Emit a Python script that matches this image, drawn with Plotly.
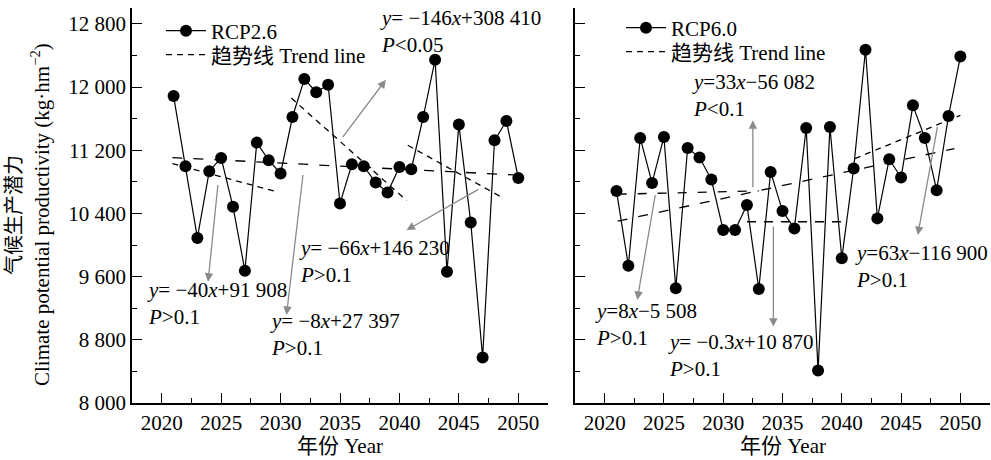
import plotly.graph_objects as go

FONT = "Liberation Serif, Noto Sans CJK SC, serif"

years = list(range(2021, 2051))
rcp26 = [11885, 10997, 10090, 10934, 11102, 10483, 9675, 11296, 11073, 10905,
         11620, 12100, 11935, 12029, 10526, 11022, 10997, 10791, 10665, 10988,
         10959, 11620, 12345, 9662, 11524, 10286, 8576, 11325, 11569, 10849]
rcp60 = [10685, 9738, 11355, 10786, 11368, 9452, 11228, 11107, 10829, 10189,
         10189, 10505, 9444, 10925, 10429, 10210, 11481, 8412, 11494, 9831,
         10968, 12471, 10337, 11086, 10854, 11768, 11355, 10694, 11633, 12386]

# trend line end points (start/end year, start/end value)
left_trend_x = [[2020.9, 2049.6], [2020.9, 2029.7], [2030.9, 2040.6], [2040.7, 2048.7]]
left_trend_y = [[11107, 10887], [11031, 10673], [11860, 10564], [11262, 10597]]
right_trend_x = [[2021.1, 2049.5], [2021.1, 2033.0], [2032.0, 2040.0], [2041.1, 2050.0]]
right_trend_y = [[10302, 11221], [10643, 10685], [10294, 10294], [11094, 11641]]

left_eq = ["<i>y</i>= −146<i>x</i>+308 410<br><i>P</i><0.05",
           "<i>y</i>= −66<i>x</i>+146 230<br><i>P</i>>0.1",
           "<i>y</i>= −40<i>x</i>+91 908<br><i>P</i>>0.1",
           "<i>y</i>= −8<i>x</i>+27 397<br><i>P</i>>0.1"]
right_eq = ["<i>y</i>=33<i>x</i>−56 082<br><i>P</i><0.1",
            "<i>y</i>=8<i>x</i>−5 508<br><i>P</i>>0.1",
            "<i>y</i>= −0.3<i>x</i>+10 870<br><i>P</i>>0.1",
            "<i>y</i>=63<i>x</i>−116 900<br><i>P</i>>0.1"]

x_ticks = [2020, 2025, 2030, 2035, 2040, 2045, 2050]
y_ticks = [8000, 8800, 9600, 10400, 11200, 12000, 12800]
y_ticktext = ["8 000", "8 800", "9 600", "10 400", "11 200", "12 000", "12 800"]

LONG = "10px,11px"
SHORT = "6px,5px"
left_dash = [LONG, SHORT, SHORT, SHORT]
right_dash = [LONG, "9px,11px", "9px,8px", SHORT]

fig = go.Figure()

# trend lines
for i, (tx, ty) in enumerate(zip(left_trend_x, left_trend_y)):
    fig.add_trace(go.Scatter(x=tx, y=ty, mode="lines", xaxis="x", yaxis="y",
                             line=dict(color="black", width=1.3, dash=left_dash[i]),
                             name="趋势线 Trend line", showlegend=(i == 1),
                             legend="legend2", hoverinfo="skip"))
for i, (tx, ty) in enumerate(zip(right_trend_x, right_trend_y)):
    fig.add_trace(go.Scatter(x=tx, y=ty, mode="lines", xaxis="x2", yaxis="y2",
                             line=dict(color="black", width=1.3, dash=right_dash[i]),
                             name="趋势线 Trend line", showlegend=(i == 3),
                             legend="legend4", hoverinfo="skip"))

fig.add_trace(go.Scatter(x=years, y=rcp26, mode="lines+markers", name="RCP2.6",
                         xaxis="x", yaxis="y", legend="legend", showlegend=True,
                         line=dict(color="black", width=1.2),
                         marker=dict(color="black", size=12)))
fig.add_trace(go.Scatter(x=years, y=rcp60, mode="lines+markers", name="RCP6.0",
                         xaxis="x2", yaxis="y2", legend="legend3", showlegend=True,
                         line=dict(color="black", width=1.2),
                         marker=dict(color="black", size=12)))

L, R, T, B = 132, 1, 8, 57
W, H = 991, 460
PW, PH = W - L - R, H - T - B


def px(xp):
    return (xp - L) / PW


def py(yp):
    return (H - B - yp) / PH


xcommon = dict(range=[2017.5, 2052.5], tickvals=x_ticks, ticks="inside", ticklen=10,
               tickwidth=1.3, tickcolor="black", showline=True, linecolor="black",
               linewidth=1.5, showgrid=False, zeroline=False,
               minor=dict(ticks="inside", ticklen=5, tickwidth=1.3, tickcolor="black",
                          tick0=2017.5, dtick=2.5),
               tickfont=dict(size=21, family=FONT))
ycommon = dict(range=[8000, 13000], tickvals=y_ticks, ticktext=y_ticktext, ticks="inside",
               ticklen=10, tickwidth=1.3, tickcolor="black", showline=True,
               linecolor="black", linewidth=1.5, showgrid=False, zeroline=False,
               minor=dict(ticks="inside", ticklen=5, tickwidth=1.3, tickcolor="black",
                          tick0=8000, dtick=400),
               tickfont=dict(size=21, family=FONT))


def leg(xpix, ypix):
    return dict(x=px(xpix), y=py(ypix), xanchor="left", yanchor="middle",
                bgcolor="rgba(0,0,0,0)", font=dict(size=21, family=FONT),
                tracegroupgap=0, itemwidth=40, visible=True)


fig.update_layout(
    width=W, height=H, margin=dict(l=L, r=R, t=T, b=B, autoexpand=False),
    plot_bgcolor="white", paper_bgcolor="white", showlegend=True,
    font=dict(family=FONT, size=21, color="black"),
    xaxis=dict(domain=[0, px(548)], anchor="y", **xcommon),
    xaxis2=dict(domain=[px(575), 1], anchor="y2", **xcommon),
    yaxis=dict(anchor="x", **ycommon),
    yaxis2=dict(anchor="x2", showticklabels=False, **ycommon),
    legend=leg(161, 31),
    legend2=leg(161, 55),
    legend3=leg(621, 28),
    legend4=leg(621, 52),
)

ann = []
# equation texts (left x pixel, center y pixel)
left_pos = [(378, 31.5), (297, 261), (145, 303), (268, 334)]
right_pos = [(690, 96), (593, 324), (666, 355), (853, 266)]
for txt, (xx, yy) in zip(left_eq + right_eq, left_pos + right_pos):
    ann.append(dict(text=txt, x=px(xx), y=py(yy), xref="paper", yref="paper",
                    xanchor="left", yanchor="middle", align="left", showarrow=False,
                    font=dict(size=21, family=FONT)))

# arrows: (head x, head y, tail x, tail y) in data units
left_arrows = [(2038.86, 12092, 2035.13, 11347), (2040.6, 10189, 2046.77, 10715),
               (2023.9, 9536, 2024.74, 10779), (2030.5, 9115, 2031.9, 10905)]
right_arrows = [(2032.5, 11578, 2032.5, 10715), (2022.75, 9305, 2024.29, 10652),
                (2034.23, 8967, 2034.23, 10252), (2046.41, 10126, 2048.09, 11515)]
for arrows, xr, yr in [(left_arrows, "x", "y"), (right_arrows, "x2", "y2")]:
    for hx, hy, tx, ty in arrows:
        ann.append(dict(x=hx, y=hy, ax=tx, ay=ty, xref=xr, yref=yr, axref=xr, ayref=yr,
                        text="", showarrow=True, arrowhead=2, arrowsize=1.3,
                        arrowwidth=1.3, arrowcolor="#8a8a8a", standoff=0, startstandoff=0))

# axis titles
ann.append(dict(text="气候生产潜力", x=px(14), y=py(215), xref="paper", yref="paper",
                textangle=-90, showarrow=False, xanchor="center", yanchor="middle",
                font=dict(size=20, family=FONT)))
ann.append(dict(text="Climate potential productivity (kg·hm<sup>−2</sup>)", x=px(40), y=py(215),
                xref="paper", yref="paper", textangle=-90, showarrow=False,
                xanchor="center", yanchor="middle", font=dict(size=21, family=FONT)))
ann.append(dict(text="年份 Year", x=px(340), y=py(446), xref="paper", yref="paper",
                showarrow=False, xanchor="center", yanchor="middle",
                font=dict(size=21, family=FONT)))
ann.append(dict(text="年份 Year", x=px(783), y=py(446), xref="paper", yref="paper",
                showarrow=False, xanchor="center", yanchor="middle",
                font=dict(size=21, family=FONT)))

fig.update_layout(annotations=ann)
fig.write_html("out.html", config={"displayModeBar": False},
               post_script="document.body.style.margin='0';document.body.style.overflow='hidden';")
